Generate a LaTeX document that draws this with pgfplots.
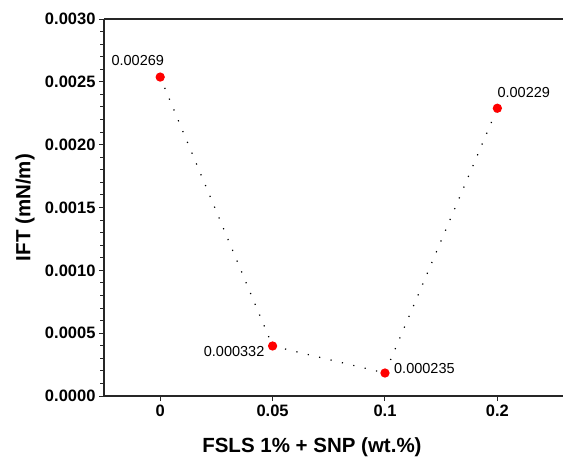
\documentclass[border=0pt]{standalone}
\usepackage{fontspec}
\setmainfont{Liberation Sans}
\usepackage{pgfplots}
\pgfplotsset{compat=1.18}
\begin{document}
\begin{tikzpicture}
\useasboundingbox (-104pt,-63pt) rectangle (459pt,396pt);
\begin{axis}[
  at={(0pt,0pt)}, anchor=south west,
  scale only axis, width=459pt, height=377pt,
  xmin=-0.5, xmax=3.584, ymin=0, ymax=0.003,
  axis x line*=box, axis y line*=left,
  axis line style={line width=1.3pt, black!85, -},
  xtick={0,1,2,3}, xticklabels={0,0.05,0.1,0.2},
  ytick={0,0.0005,0.001,0.0015,0.002,0.0025,0.003},
  minor y tick num=4,
  xtick pos=left, ytick pos=left,
  tick align=outside,
  major tick length=5pt, minor tick length=3.5pt,
  every tick/.style={black!85, line width=1pt},
  scaled y ticks=false,
  yticklabel style={/pgf/number format/.cd, fixed, fixed zerofill, precision=4, /tikz/.cd},
  /pgf/number format/assume math mode=true,
  ticklabel style={font=\fontsize{16.5}{19}\selectfont\bfseries},
  xlabel={FSLS 1\% + SNP (wt.\%)},
  ylabel={IFT (mN/m)},
  label style={font=\fontsize{20.5}{24}\selectfont\bfseries},
  xlabel style={at={(axis description cs:0.453,-0.135)}, anchor=center},
  ylabel style={at={(axis description cs:-0.172,0.5)}, anchor=center, rotate=0},
  clip=false,
]
\addplot[black, line width=1.2pt, dash pattern=on 1.2pt off 10.5pt,
  mark=*, mark size=4pt, mark options={solid, fill=red, draw=red}]
  coordinates {(0,0.002538) (1,0.000398) (2,0.000183) (3,0.00229)};
\node[anchor=south east, inner sep=0pt, xshift=4pt, yshift=11pt, font=\fontsize{14.5}{17}\selectfont] at (axis cs:0,0.002538) {0.00269};
\node[anchor=east, inner sep=0pt, xshift=-8pt, yshift=-6pt, font=\fontsize{14.5}{17}\selectfont] at (axis cs:1,0.000398) {0.000332};
\node[anchor=west, inner sep=0pt, xshift=9pt, yshift=4pt, font=\fontsize{14.5}{17}\selectfont] at (axis cs:2,0.000183) {0.000235};
\node[anchor=south west, inner sep=0pt, xshift=0pt, yshift=10pt, font=\fontsize{14.5}{17}\selectfont] at (axis cs:3,0.00229) {0.00229};
\end{axis}
\end{tikzpicture}
\end{document}
